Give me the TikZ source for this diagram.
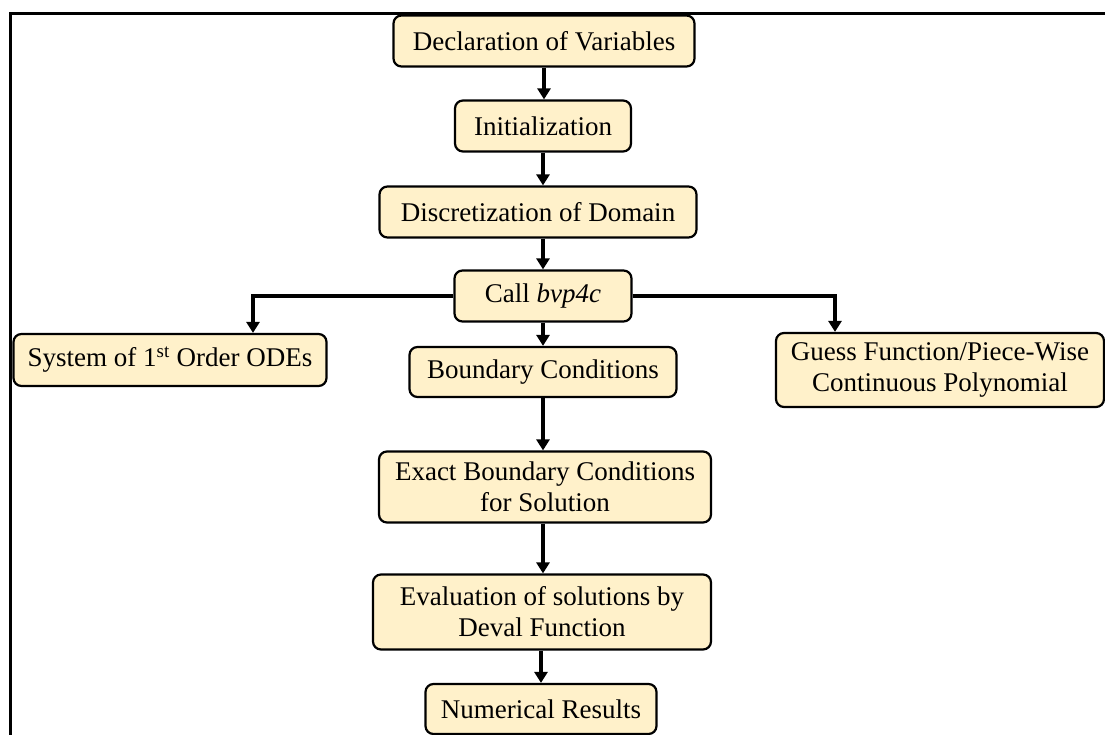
\documentclass[tikz,border=0pt]{standalone}
\usepackage{fontspec}
\setmainfont{Liberation Serif}
\usepackage{tikz}
\usetikzlibrary{arrows.meta}

\definecolor{boxfill}{RGB}{255,241,202}

\begin{document}
\begin{tikzpicture}[x=1pt,y=-1pt]
\tikzset{step box/.style = {shape=rectangle,draw,line width=2.2pt,rounded corners=8pt,fill=boxfill,
  align=center,inner sep=0pt,font=\fontsize{27}{31}\selectfont}}
\tikzset{edge/.style = {-{Triangle[length=11pt,width=13pt]},line width=4pt}}
\useasboundingbox (0,0) rectangle (1105,735);
\draw[line width=3pt] (10,735) -- (10,14) -- (1105,14);
\node[step box,minimum width=301pt,minimum height=51pt](decl) at (544,41) {Declaration of Variables};
\node[step box,minimum width=176pt,minimum height=51pt](init) at (543,126) {Initialization};
\node[step box,minimum width=317pt,minimum height=51pt](disc) at (538,212) {Discretization of Domain};
\node[step box,minimum width=177pt,minimum height=51pt](call) at (543,296) {Call \textit{bvp4c}};
\node[step box,minimum width=313pt,minimum height=52pt](odes) at (170,360) {System of 1\textsuperscript{st} Order ODEs};
\node[step box,minimum width=267pt,minimum height=50pt](bc) at (543,372) {Boundary Conditions};
\node[step box,minimum width=328pt,minimum height=74pt](guess) at (940,370) {Guess Function/Piece-Wise\\Continuous Polynomial};
\node[step box,minimum width=332pt,minimum height=71pt](exact) at (545,487) {Exact Boundary Conditions\\for Solution};
\node[step box,minimum width=338pt,minimum height=75pt](deval) at (542,612) {Evaluation of solutions by\\Deval Function};
\node[step box,minimum width=231pt,minimum height=50pt](num) at (541,709) {Numerical Results};
\draw[edge] (decl.south) -- (decl.south |- init.north);
\draw[edge] (init.south) -- (init.south |- disc.north);
\draw[edge] (disc.south -| init) -- (init |- call.north);
\draw[edge] (call.south) -- (call.south |- bc.north);
\draw[edge] (call.west) -| (odes.north -| 253,0);
\draw[edge] (call.east) -| (guess.north -| 835,0);
\draw[edge] (bc.south) -- (bc.south |- exact.north);
\draw[edge] (exact.south -| bc) -- (bc |- deval.north);
\draw[edge] (deval.south -| num) -- (num.north);
\end{tikzpicture}
\end{document}
